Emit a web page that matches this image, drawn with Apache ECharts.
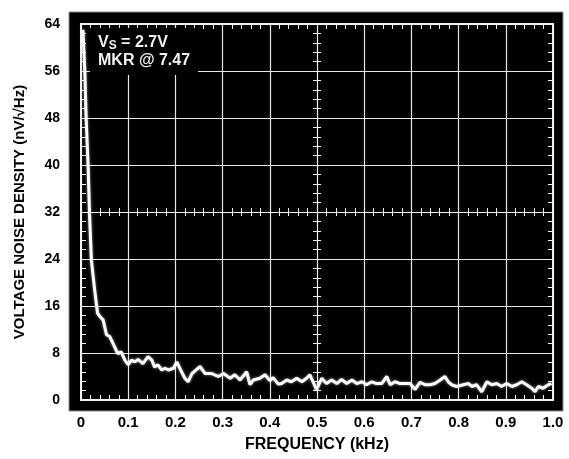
<!DOCTYPE html>
<html>
<head>
<meta charset="utf-8">
<script src="https://cdn.jsdelivr.net/npm/echarts@6/dist/echarts.min.js"></script>
<style>
  html, body { margin: 0; padding: 0; background: #fff; }
  #chart { width: 569px; height: 459px; }
</style>
</head>
<body>
<div id="chart"></div>
<script>
// frequency in kHz, noise density in nV/rtHz
const freq = [
  0.004, 0.008, 0.011, 0.015, 0.018, 0.022, 0.029, 0.035, 0.040, 0.047,
  0.054, 0.061, 0.068, 0.078, 0.085, 0.093, 0.100, 0.107, 0.114, 0.121,
  0.131, 0.142, 0.150, 0.156, 0.163, 0.171, 0.178, 0.185, 0.196, 0.203,
  0.213, 0.220, 0.227, 0.235, 0.252, 0.263, 0.277, 0.291, 0.302, 0.316,
  0.326, 0.337, 0.351, 0.358, 0.365, 0.379, 0.390, 0.400, 0.407, 0.418,
  0.425, 0.436, 0.446, 0.457, 0.468, 0.478, 0.485, 0.496, 0.499, 0.510,
  0.520, 0.531, 0.542, 0.552, 0.563, 0.574, 0.584, 0.595, 0.605, 0.616,
  0.626, 0.637, 0.648, 0.655, 0.665, 0.676, 0.690, 0.697, 0.708, 0.718,
  0.729, 0.739, 0.750, 0.761, 0.771, 0.778, 0.785, 0.796, 0.810, 0.821,
  0.828, 0.838, 0.849, 0.860, 0.870, 0.881, 0.891, 0.902, 0.913, 0.923,
  0.934, 0.944, 0.955, 0.962, 0.969, 0.979, 0.990, 0.997
];
const noise = [
  63.0, 56.2, 47.7, 40.0, 31.8, 23.8, 18.7, 14.8, 14.2, 13.6,
  11.1, 10.8, 9.6, 7.9, 8.2, 6.8, 6.0, 6.8, 6.5, 6.9,
  6.2, 7.4, 6.8, 5.6, 6.0, 5.1, 5.4, 5.1, 5.4, 6.5,
  4.8, 3.7, 3.1, 4.5, 5.7, 4.5, 4.5, 4.0, 4.5, 3.7,
  4.3, 3.4, 4.8, 2.6, 3.4, 3.7, 4.3, 3.3, 3.8, 2.7,
  2.8, 3.4, 3.1, 3.7, 3.1, 3.7, 4.3, 2.3, 1.7, 3.7,
  2.8, 3.4, 2.8, 3.5, 2.8, 3.4, 2.8, 3.1, 2.6, 3.1,
  2.8, 2.8, 4.0, 2.6, 3.1, 2.8, 2.8, 2.8, 1.8, 3.0,
  2.6, 2.6, 2.8, 3.4, 4.0, 3.1, 2.6, 2.3, 2.6, 2.8,
  2.3, 2.6, 1.4, 3.1, 2.6, 2.8, 2.3, 2.8, 2.3, 2.6,
  3.1, 2.6, 2.0, 1.4, 2.3, 2.0, 2.6, 2.8
];
const xTicks = ['0', '0.1', '0.2', '0.3', '0.4', '0.5', '0.6', '0.7', '0.8', '0.9', '1.0'];
const yTicks = [0, 8, 16, 24, 32, 40, 48, 56, 64];

const font = '"Liberation Sans", Arial, Helvetica, sans-serif';
const white = '#f2f2f2';

let myChart = echarts.init(document.getElementById('chart'));

// edge axes: ticks pointing into the plot
function edgeAxis(extra) {
  return Object.assign({
    type: 'value',
    axisLine: { show: true, onZero: false, lineStyle: { color: white, width: 2 } },
    axisTick: { show: true, inside: true, length: 5, lineStyle: { color: white } },
    minorTick: { show: true, splitNumber: 5, length: 5, lineStyle: { color: white } },
    axisLabel: { show: false },
    splitLine: { show: false }
  }, extra);
}

// centre cross-hair axes, ticks on both sides
function centreAxis(extra, inside, zeroIdx) {
  return Object.assign({
    type: 'value',
    axisLine: { show: true, onZero: true, onZeroAxisIndex: zeroIdx, lineStyle: { color: white, width: 1 } },
    axisTick: { show: true, inside: inside, length: 4, lineStyle: { color: white } },
    minorTick: { show: true, splitNumber: 5, length: 4, lineStyle: { color: white } },
    axisLabel: { show: false },
    splitLine: { show: false }
  }, extra);
}

myChart.setOption({
  animation: false,
  backgroundColor: '#fff',
  graphic: [{
    type: 'rect',
    z: -10,
    shape: { x: 69, y: 12, width: 494, height: 399 },
    style: { fill: '#000', stroke: '#8a8a8a', lineWidth: 1 }
  }],
  title: {
    left: 90,
    top: 29,
    padding: [5, 8, 6, 8],
    backgroundColor: '#000',
    z: 10,
    text: '{a|V}{s|S}{a| = 2.7V}\n{a|MKR @ 7.47}',
    textStyle: {
      rich: {
        a: { color: white, fontFamily: font, fontWeight: 'bold', fontSize: 16, lineHeight: 18 },
        s: { color: white, fontFamily: font, fontWeight: 'bold', fontSize: 12, lineHeight: 18, padding: [7, 0, 0, 0], verticalAlign: 'bottom' }
      }
    }
  },
  grid: {
    left: 81,
    right: 16,
    top: 24,
    bottom: 59,
    show: true,
    backgroundColor: '#000',
    borderWidth: 0
  },
  xAxis: [
    edgeAxis({
      position: 'bottom', min: 0, max: 1, interval: 0.1,
      axisLabel: {
        show: true, margin: 15, color: '#000', fontFamily: font, fontWeight: 'bold', fontSize: 15,
        formatter: function (v) { return xTicks[Math.round(v * 10)]; }
      },
      splitLine: { show: true, lineStyle: { color: '#e6e6e6', width: 1.2 } },
      name: 'FREQUENCY (kHz)',
      nameLocation: 'middle',
      nameGap: 37,
      nameTextStyle: { color: '#000', fontFamily: font, fontWeight: 'bold', fontSize: 16 }
    }),
    edgeAxis({ position: 'top', min: 0, max: 1, interval: 0.1 }),
    centreAxis({ position: 'bottom', min: -0.5, max: 0.5, interval: 0.1 }, true, 4),
    centreAxis({ position: 'bottom', min: -0.5, max: 0.5, interval: 0.1 }, false, 4),
    { type: 'value', show: false, min: -0.5, max: 0.5, axisLine: { onZero: false } }
  ],
  yAxis: [
    edgeAxis({
      position: 'left', min: 0, max: 64, interval: 8,
      axisLabel: {
        show: true, margin: 21, color: '#000', fontFamily: font, fontWeight: 'bold', fontSize: 14,
        formatter: function (v) { return yTicks.indexOf(v) >= 0 ? String(v) : ''; }
      },
      splitLine: { show: true, lineStyle: { color: '#e6e6e6', width: 1.2 } },
      name: 'VOLTAGE NOISE DENSITY (nV/√Hz)',
      nameLocation: 'middle',
      nameGap: 54,
      nameTextStyle: { color: '#000', fontFamily: font, fontWeight: 'bold', fontSize: 15 }
    }),
    edgeAxis({ position: 'right', min: 0, max: 64, interval: 8 }),
    centreAxis({ position: 'left', min: -32, max: 32, interval: 8 }, true, 4),
    centreAxis({ position: 'left', min: -32, max: 32, interval: 8 }, false, 4),
    { type: 'value', show: false, min: -32, max: 32, axisLine: { onZero: false } }
  ],
  series: [{
    type: 'line',
    xAxisIndex: 0,
    yAxisIndex: 0,
    data: freq.map((f, i) => [f, noise[i]]),
    showSymbol: false,
    symbol: 'none',
    z: 5,
    lineStyle: { color: '#fff', width: 3, shadowColor: 'rgba(255,255,255,0.6)', shadowBlur: 3 }
  }]
});
</script>
</body>
</html>
